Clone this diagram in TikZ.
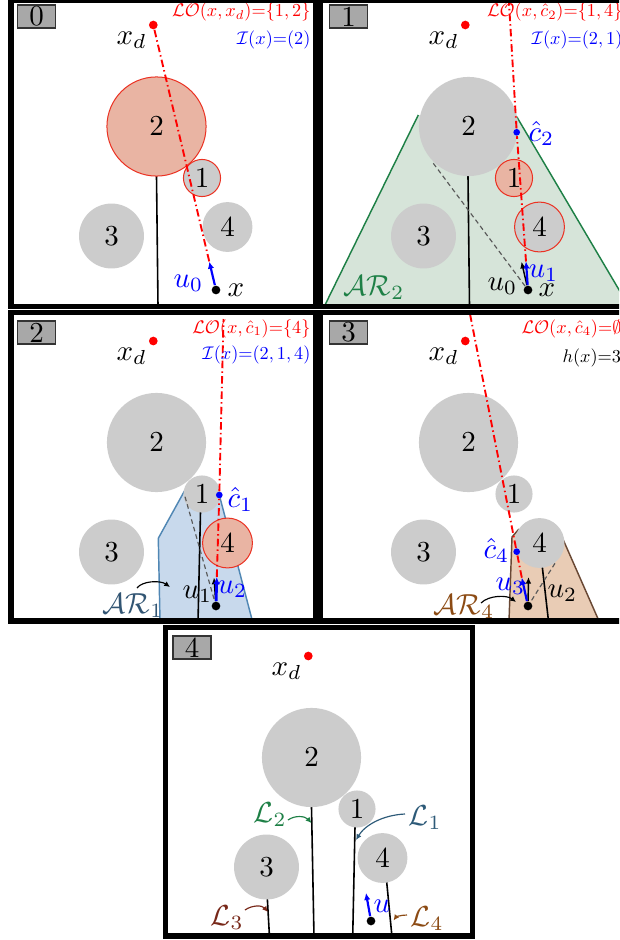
\documentclass[tikz,border=0pt]{standalone}
\usetikzlibrary{arrows.meta}
\definecolor{obsgray}{RGB}{204,204,204}
\definecolor{salmon}{RGB}{233,180,163}
\definecolor{hitred}{RGB}{235,50,35}
\definecolor{argreen}{RGB}{30,128,70}
\definecolor{argfill}{RGB}{214,228,217}
\definecolor{arblue}{RGB}{80,135,180}
\definecolor{arbfill}{RGB}{200,217,236}
\definecolor{arbtext}{RGB}{50,85,115}
\definecolor{artan}{RGB}{105,72,52}
\definecolor{artfill}{RGB}{233,204,181}
\definecolor{arttext}{RGB}{140,75,20}
\definecolor{lthree}{RGB}{120,40,25}
\definecolor{lone}{RGB}{45,90,120}
\definecolor{taggray}{RGB}{168,168,168}
\tikzset{
  obst/.style={circle, fill=obsgray, inner sep=0pt},
  rtwo/.style={minimum size=34.2pt},
  rone/.style={minimum size=12.8pt},
  rfour/.style={minimum size=17.2pt},
  rthree/.style={minimum size=22.4pt},
  hit/.style={draw=hitred, line width=0.35pt},
  hitfill/.style={hit, fill=salmon},
  pathline/.style={draw=black, line width=0.55pt},
  losline/.style={draw=red, line width=0.65pt, dash pattern=on 2.6pt off 1.1pt on 0.5pt off 1.1pt},
  guide/.style={draw=black!65, line width=0.4pt, dash pattern=on 1.6pt off 1.1pt},
  uarrow/.style={draw=blue, line width=0.75pt, -{Latex[length=2.4pt,width=2.2pt]}},
  oarrow/.style={draw=black, line width=0.5pt, -{Latex[length=2.3pt,width=2pt]}},
  callout/.style={line width=0.4pt, -{Latex[length=2pt,width=1.9pt]}},
  regedge/.style={line width=0.5pt},
  ptdot/.style={circle, inner sep=0pt, minimum size=3pt},
  cdot/.style={circle, inner sep=0pt, minimum size=2.3pt, fill=blue},
  lbl/.style={inner sep=0pt, anchor=base west},
  info/.style={inner sep=0pt, anchor=base east},
  infol/.style={inner sep=0pt, anchor=base west},
  panetag/.style={draw=black!80, fill=taggray, line width=0.4pt, minimum width=13.1pt, minimum height=7.9pt, inner sep=0pt},
  panelframe/.style={draw=black, line width=1.75pt},
}
\newcommand{\smalltxt}[1]{\scalebox{0.63}{$#1$}}
\newcommand{\DrawObs}[4]{%
  \node[obst,rtwo,#1] (o2) at (156.5,126.5) {$2$};
  \node[obst,rone,#2] (o1) at (202,178) {$1$};
  \node[obst,rfour,#3] (o4) at (227.5,227) {$4$};
  \node[obst,rthree,#4] (o3) at (111.5,236) {$3$};
}
\newcommand{\DrawGoal}{%
  \node[ptdot, fill=red] (xd) at (153.3,25) {};
  \node[lbl] (xdl) at (116,44) {$x_d$};
  \node[ptdot, fill=black] (xpt) at (216,290) {};
}
\begin{document}
\begin{tikzpicture}[x=0.345pt, y=-0.345pt]
\useasboundingbox (0,0) rectangle (619,940);
\clip (0,0) rectangle (619,940);
\fill[white] (0,0) rectangle (619,940);

% ---------------- panel 0
\begin{scope}[name prefix=p0-]
  \coordinate (l2a) at (156.5,176);
  \coordinate (l2b) at (158,306);
  \draw[pathline] (l2a) -- (l2b);
  \DrawObs{hitfill}{hit}{}{}
  \DrawGoal
  \coordinate (t0) at (209.3,261.7);
  \draw[losline] (xd) -- (t0);
  \draw[uarrow] (xpt) -- (t0);
  \node[lbl, text=blue] (u0l) at (173,287) {$u_0$};
  \node[lbl] (xl) at (227,296) {$x$};
  \node[info, text=red] (lo) at (311,17) {\smalltxt{\mathcal{LO}(x,x_d){=}\{1,2\}}};
  \node[info, text=blue] (ii) at (311,44) {\smalltxt{\mathcal{I}(x){=}(2)}};
  \node[panetag] (tag) at (36.5,16.5) {0};
\end{scope}

% ---------------- panel 1
\begin{scope}[shift={(312,0)}, name prefix=p1-]
  \coordinate (ra) at (13,305);
  \coordinate (rb) at (106.3,115);
  \coordinate (rc) at (204.7,116.7);
  \coordinate (rd) at (316,305);
  \fill[argfill] (ra) -- (rb) -- (rc) -- (rd) -- cycle;
  \draw[regedge, argreen] (ra) -- (rb);
  \draw[regedge, argreen] (rc) -- (rd);
  \coordinate (l2a) at (156,176);
  \coordinate (l2b) at (157.5,306);
  \draw[pathline] (l2a) -- (l2b);
  \DrawObs{}{hitfill}{hit}{}
  \DrawGoal
  \coordinate (g0) at (121.3,163.3);
  \draw[guide] (g0) -- (xpt);
  \coordinate (t0) at (209.5,261.7);
  \coordinate (t1) at (214,261.5);
  \node[cdot] (ch) at (204.7,132.3) {};
  \coordinate (top) at (197,3);
  \draw[losline] (t1) -- (ch) -- (top);
  \draw[oarrow] (xpt) -- (t0);
  \draw[uarrow] (xpt) -- (t1);
  \node[lbl, text=blue] (chl) at (216,141) {$\hat{c}_2$};
  \node[lbl, text=blue] (u1l) at (216,277) {$u_1$};
  \node[lbl] (u0l) at (175,290) {$u_0$};
  \node[lbl] (xl) at (226,296) {$x$};
  \node[lbl, text=argreen] (arl) at (31,295) {$\mathcal{AR}_2$};
  \node[info, text=red] (lo) at (311,17) {\smalltxt{\mathcal{LO}(x,\hat{c}_2){=}\{1,4\}}};
  \node[info, text=blue] (ii) at (311,44) {\smalltxt{\mathcal{I}(x){=}(2,1)}};
  \node[panetag] (tag) at (36.5,16.5) {1};
\end{scope}

% ---------------- panel 2
\begin{scope}[shift={(0,316)}, name prefix=p2-]
  \coordinate (ra) at (160,305);
  \coordinate (rb) at (158.3,222.3);
  \coordinate (rc) at (185,174);
  \coordinate (rd) at (202,160);
  \coordinate (re) at (219.3,179);
  \coordinate (rf) at (252.4,305);
  \fill[arbfill] (ra) -- (rb) -- (rc) -- (rd) -- (re) -- (rf) -- cycle;
  \draw[regedge, arblue] (ra) -- (rb) -- (rc);
  \draw[regedge, arblue] (re) -- (rf);
  \coordinate (l1a) at (200.5,196);
  \coordinate (l1b) at (198,306);
  \draw[pathline] (l1a) -- (l1b);
  \DrawObs{}{}{hitfill}{}
  \DrawGoal
  \coordinate (g0) at (185,180.7);
  \draw[guide] (g0) -- (xpt);
  \coordinate (t1) at (214,261.5);
  \coordinate (t2) at (216.8,261);
  \node[cdot] (ch) at (219.3,179) {};
  \coordinate (top) at (223.5,3);
  \draw[losline] (t2) -- (ch) -- (top);
  \draw[oarrow] (xpt) -- (t1);
  \draw[uarrow, line width=0.95pt] (xpt) -- (t2);
  \node[lbl, text=blue] (chl) at (227,191) {$\hat{c}_1$};
  \node[lbl, text=blue] (u2l) at (217,277) {$u_2$};
  \node[lbl] (u1l) at (182,282) {$u_1$};
  \node[lbl, text=arbtext] (arl) at (102,297) {$\mathcal{AR}_1$};
  \coordinate (ca) at (137,272);
  \coordinate (cb) at (170,271);
  \draw[callout] (ca) .. controls (142,265) and (160,264) .. (cb);
  \node[info, text=red] (lo) at (311,17) {\smalltxt{\mathcal{LO}(x,\hat{c}_1){=}\{4\}}};
  \node[info, text=blue] (ii) at (311,43) {\smalltxt{\mathcal{I}(x){=}(2,1,4)}};
  \node[panetag] (tag) at (36.5,16.5) {2};
\end{scope}

% ---------------- panel 3
\begin{scope}[shift={(312,316)}, name prefix=p3-]
  \coordinate (ra) at (197,305);
  \coordinate (rb) at (200,221);
  \coordinate (rc) at (207,213);
  \coordinate (rd) at (251.3,224);
  \coordinate (re) at (287,305);
  \fill[artfill] (ra) -- (rb) -- (rc) -- (rd) -- (re) -- cycle;
  \draw[regedge, artan] (ra) -- (rb) -- (rc);
  \draw[regedge, artan] (rd) -- (re);
  \coordinate (l4a) at (230.3,251);
  \coordinate (l4b) at (236.6,306);
  \draw[pathline] (l4a) -- (l4b);
  \DrawObs{}{}{}{}
  \DrawGoal
  \coordinate (g0) at (243,247.3);
  \draw[guide] (g0) -- (xpt);
  \coordinate (t2) at (216.5,261);
  \coordinate (t3) at (209.8,261.7);
  \node[cdot] (ch) at (204.7,235.7) {};
  \coordinate (top) at (158,-2);
  \draw[losline] (t3) -- (ch) -- (top);
  \draw[oarrow] (xpt) -- (t2);
  \draw[uarrow] (xpt) -- (t3);
  \node[lbl, text=blue] (chl) at (171,242) {$\hat{c}_4$};
  \node[lbl, text=blue] (u3l) at (183,274) {$u_3$};
  \node[lbl] (u2l) at (235,281) {$u_2$};
  \node[lbl, text=arttext] (arl) at (121,298) {$\mathcal{AR}_4$};
  \coordinate (ca) at (169,287);
  \coordinate (cb) at (204,286);
  \draw[callout] (ca) .. controls (177,279) and (195,279) .. (cb);
  \node[infol, text=red] (lo) at (209,17) {\smalltxt{\mathcal{LO}(x,\hat{c}_4){=}\emptyset}};
  \node[infol] (hh) at (250,46) {\smalltxt{h(x){=}3}};
  \node[panetag] (tag) at (36.5,16.5) {3};
\end{scope}

% ---------------- panel 4
\begin{scope}[shift={(155,631)}, name prefix=p4-]
  \coordinate (l2a) at (156.5,176);
  \coordinate (l2b) at (159,306);
  \coordinate (l1a) at (200,196);
  \coordinate (l1b) at (197.7,306);
  \coordinate (l3a) at (112.3,267);
  \coordinate (l3b) at (114.5,306);
  \coordinate (l4a) at (231.7,251);
  \coordinate (l4b) at (237,306);
  \draw[pathline] (l2a) -- (l2b);
  \draw[pathline] (l1a) -- (l1b);
  \draw[pathline] (l3a) -- (l3b);
  \draw[pathline] (l4a) -- (l4b);
  \DrawObs{}{}{}{}
  \DrawGoal
  \coordinate (tu) at (211,262);
  \draw[uarrow] (xpt) -- (tu);
  \node[lbl, text=blue] (ul) at (218,281) {$u$};
  \node[lbl, text=argreen] (L2) at (98,191) {$\mathcal{L}_2$};
  \node[lbl, text=lone] (L1) at (253,194) {$\mathcal{L}_1$};
  \node[lbl, text=lthree] (L3) at (55,294) {$\mathcal{L}_3$};
  \node[lbl, text=arttext] (L4) at (255,295) {$\mathcal{L}_4$};
  \coordinate (a2s) at (133,189);
  \coordinate (a2e) at (156.5,192);
  \draw[callout, argreen] (a2s) .. controls (140,184) and (150,185) .. (a2e);
  \coordinate (a1s) at (250,183);
  \coordinate (a1e) at (201,209);
  \draw[callout, lone] (a1s) .. controls (228,184) and (210,194) .. (a1e);
  \coordinate (a3s) at (90,279);
  \coordinate (a3e) at (113,281);
  \draw[callout, lthree] (a3s) .. controls (97,274) and (107,274) .. (a3e);
  \coordinate (a4s) at (252,284);
  \coordinate (a4e) at (238.5,289.5);
  \draw[callout, arttext] (a4s) .. controls (246,284) and (241,286) .. (a4e);
  \node[panetag] (tag) at (37,16.5) {4};
\end{scope}

% ---------------- frames
\draw[panelframe] (11,0.5) rectangle (315.5,306.5);
\draw[panelframe] (320.5,0.5) rectangle (625,306.5);
\draw[panelframe] (11,312.5) rectangle (315.5,621);
\draw[panelframe] (320.5,312.5) rectangle (625,621);
\draw[panelframe] (165.5,627.5) rectangle (472.5,936);
\end{tikzpicture}
\end{document}
